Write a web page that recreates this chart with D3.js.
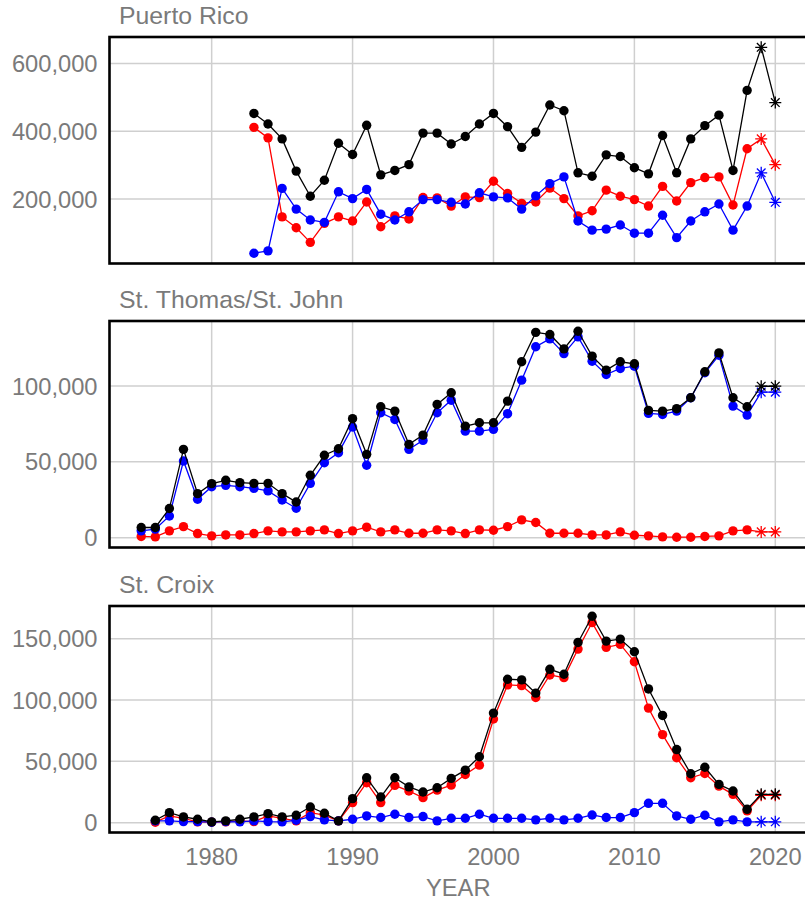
<!DOCTYPE html>
<html>
<head>
<meta charset="utf-8">
<script src="https://cdn.jsdelivr.net/npm/d3@7"></script>
<style>
  body { margin: 0; background: #fff; }
  text { font-family: "Liberation Sans", Arial, sans-serif; }
</style>
</head>
<body>
<svg width="805" height="900"></svg>
<script>
// categories
const panelNames = ["Puerto Rico", "St. Thomas/St. John", "St. Croix"];
const prYears = d3.range(1983, 2021);
const sttYears = d3.range(1975, 2021);
const stxYears = d3.range(1976, 2021);
const estimateYears = [2019, 2020];

// Puerto Rico
const prTotal = [451,420,376,281,207,254,363,330,416,270,283,300,393,393,361,383,420,451,412,351,
  396,476,459,276,266,329,324,291,273,386,276,376,415,446,283,519,646,483].map(d => d * 1000);
const prRed = [410,379,146,114,71,127,146,134,190,117,149,140,203,202,178,205,203,251,215,186,
  190,231,200,149,164,225,207,197,178,236,193,247,262,264,181,347,376,300].map(d => d * 1000);
const prBlue = [39,46,230,169,137,130,220,200,227,154,137,161,197,197,189,184,217,205,202,169,
  208,244,264,134,107,110,122,98,98,151,85,134,161,184,107,178,276,189].map(d => d * 1000);

// St. Thomas/St. John
const sttTotal = [6.4,6.4,18.9,57.9,28.7,35.3,37.5,36,35.5,35.5,28.7,23.2,40.8,54,58.3,78.1,54.6,
  86,83.1,61.2,67.3,87.5,95.2,73.2,75.4,75.4,89.7,115.6,135,133.6,124.1,135.7,
  119.3,110.1,115.6,114.3,83.6,83.1,84.7,91.9,109,121.5,91.9,86,99.5,99.5].map(d => d * 1000);
const sttRed = [0.5,0.2,4.2,7,2.4,0.9,1.5,1.5,2.4,4.2,3.5,3.5,4.2,4.8,2.4,4.2,6.6,
  3.5,4.8,2.6,2.6,4.8,4.2,2.4,4.8,4.6,7,11.4,9.7,2.6,2.6,2.6,
  1.5,1.5,3.5,1.3,0.9,0.2,0,0,0.5,0.9,4.2,4.8,3.5,3.5].map(d => d * 1000);
const sttBlue = [4.2,5.3,14,50.2,25,33.3,34.2,33.3,32.2,30.5,24.5,19.1,35.5,49.1,55.7,72.6,47.4,
  82,77.6,57.9,63.8,82,90.3,69.9,69.9,71.1,81.4,103.5,125.5,130.7,121,132,
  116,107.2,111.2,112.7,81.6,80.9,83.1,91.9,108.4,119.9,86.4,80.5,95.6,95.6].map(d => d * 1000);

// St. Croix
const stxTotal = [1.6,7.8,4.3,2.4,0.3,1.1,2.4,4.3,7,4.3,5.7,12.4,7.3,1.1,19.2,36.2,20.5,36.2,28.8,
  24.6,28.1,35.7,42.4,53.3,88.9,116.5,116,105.2,124.6,120.6,146.5,167.8,147.6,149.2,138.9,
  108.6,87,59.2,39.5,44.8,30.8,25.4,10.5,22.7,22.7].map(d => d * 1000);
const stxRed = [0,5.1,3.2,0.3,0,0.3,1.1,0.5,5.1,3.2,1.1,7.8,5.7,1.1,16,32.2,16,30,25.4,
  20,26.2,30.2,38.9,46.5,84.1,111.9,111.3,101.6,120,117.8,141.1,162.7,142.5,144.9,130.8,
  93,71.4,52.5,36.2,39.7,29.4,22.7,9.2,21.9,21.9].map(d => d * 1000);
const stxBlue = [1.1,1.1,0.5,0.5,0,0.5,0.3,1.1,0.5,0.3,1.6,4.6,1.9,1.1,2.4,5.1,3.8,6.5,3.8,
  4.6,1.1,3.2,3.2,6.5,3.2,3.2,3.2,1.9,3.2,1.9,3.2,5.9,3.8,3.8,7.8,
  15.4,15.4,5.1,2.4,5.7,0.3,1.9,0.3,0.3,0.3].map(d => d * 1000);

// tick labels
const xTicks = [1980, 1990, 2000, 2010, 2020];
const yTicks = [[200000, 400000, 600000], [0, 50000, 100000], [0, 50000, 100000, 150000]];

const panels = [
  { years: prYears, series: [["red", prRed], ["blue", prBlue], ["black", prTotal]] },
  { years: sttYears, series: [["red", sttRed], ["blue", sttBlue], ["black", sttTotal]] },
  { years: stxYears, series: [["red", stxRed], ["blue", stxBlue], ["black", stxTotal]] }
];

const svg = d3.select("svg");
const left = 109.5;
const right = 807;
const panelTops = [37, 321, 606];
const panelH = 226.5;
const textColor = "#7a7a7a";
const fontSize = 23.7;
const titleSize = 24.8;

// shared x scale, ggplot style 5% expansion
const allYears = [].concat(prYears, sttYears, stxYears);
const [x0, x1] = d3.extent(allYears);
const xPad = (x1 - x0) * 0.05;
const x = d3.scaleLinear().domain([x0 - xPad, x1 + xPad]).range([left, right]);

const fmt = d3.format(",");

const asterisk = r => `M0 ${-r} L0 ${r} M${-r} 0 L${r} 0
  M${-r * 0.72} ${-r * 0.72} L${r * 0.72} ${r * 0.72} M${-r * 0.72} ${r * 0.72} L${r * 0.72} ${-r * 0.72}`;

panels.forEach((p, i) => {
  const top = panelTops[i];
  const bottom = top + panelH;
  const allVals = [].concat(...p.series.map(s => s[1]));
  const [lo, hi] = d3.extent(allVals);
  const yPad = (hi - lo) * 0.05;
  const y = d3.scaleLinear().domain([lo - yPad, hi + yPad]).range([bottom, top]);

  const g = svg.append("g");

  // title
  g.append("text")
    .attr("x", 119)
    .attr("y", top - 13)
    .attr("fill", textColor)
    .attr("font-size", titleSize)
    .text(panelNames[i]);

  // y grid + labels
  g.append("g")
    .attr("transform", `translate(${left},0)`)
    .call(d3.axisLeft(y).tickValues(yTicks[i]).tickFormat(fmt).tickSize(0).tickPadding(0))
    .call(a => a.select(".domain").remove())
    .call(a => a.selectAll("line").attr("stroke", "#cfcfcf").attr("stroke-width", 1.5).attr("x2", right - left))
    .call(a => a.selectAll("text")
      .attr("x", -12)
      .attr("dy", "0.36em")
      .attr("fill", textColor)
      .attr("font-size", fontSize)
      .attr("font-family", "Liberation Sans, Arial, sans-serif"));

  g.append("g")
    .selectAll("line")
    .data(xTicks)
    .join("line")
      .attr("x1", d => x(d))
      .attr("x2", d => x(d))
      .attr("y1", top)
      .attr("y2", bottom)
      .attr("stroke", "#cfcfcf")
      .attr("stroke-width", 1.5);

  // series
  p.series.forEach(([color, vals]) => {
    const pts = p.years.map((yr, k) => ({ yr, v: vals[k] }));
    g.append("path")
      .datum(pts)
      .attr("fill", "none")
      .attr("stroke", color)
      .attr("stroke-width", 1.3)
      .attr("d", d3.line().x(d => x(d.yr)).y(d => y(d.v)));

    g.append("g")
      .selectAll("circle")
      .data(pts.filter(d => !estimateYears.includes(d.yr)))
      .join("circle")
        .attr("cx", d => x(d.yr))
        .attr("cy", d => y(d.v))
        .attr("r", 4.7)
        .attr("fill", color);

    g.append("g")
      .selectAll("path")
      .data(pts.filter(d => estimateYears.includes(d.yr)))
      .join("path")
        .attr("transform", d => `translate(${x(d.yr)},${y(d.v)})`)
        .attr("d", asterisk(6))
        .attr("fill", "none")
        .attr("stroke", color)
        .attr("stroke-width", 1.3);
  });

  // frame
  g.append("rect")
    .attr("x", left)
    .attr("y", top)
    .attr("width", right - left)
    .attr("height", panelH)
    .attr("fill", "none")
    .attr("stroke", "black")
    .attr("stroke-width", 2.6);

  // x labels on the last panel only
  if (i === panels.length - 1) {
    g.append("g")
      .selectAll("text")
      .data(xTicks)
      .join("text")
        .attr("x", d => x(d))
        .attr("y", bottom + 32)
        .attr("text-anchor", "middle")
        .attr("fill", textColor)
        .attr("font-size", fontSize)
        .text(d => d);
  }
});

svg.append("text")
  .attr("x", (left + right) / 2)
  .attr("y", 896)
  .attr("text-anchor", "middle")
  .attr("fill", textColor)
  .attr("font-size", fontSize)
  .text("YEAR");
</script>
</body>
</html>
